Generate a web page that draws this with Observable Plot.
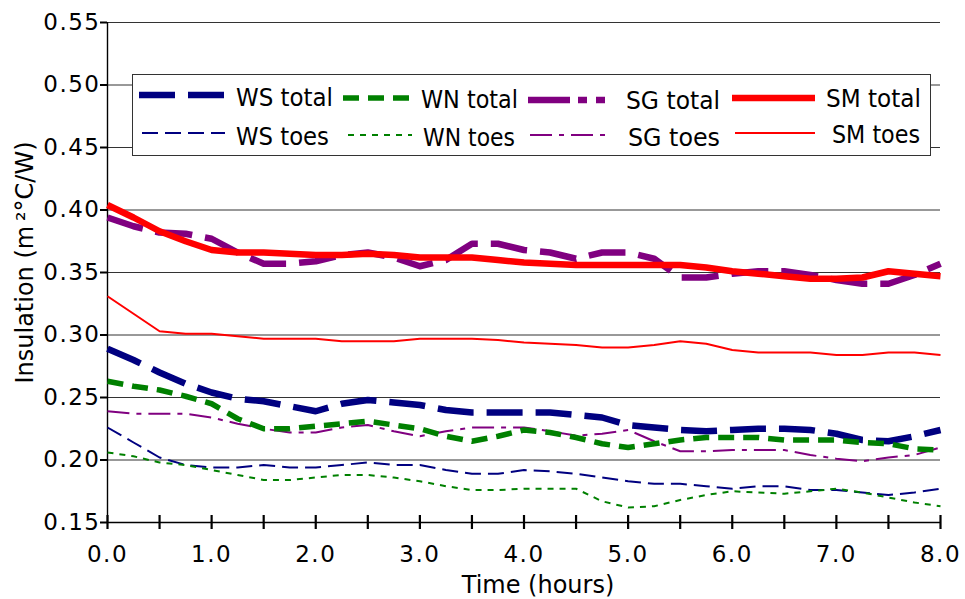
<!DOCTYPE html>
<html><head><meta charset="utf-8">
<script src="https://cdn.jsdelivr.net/npm/d3@7"></script>
<script src="https://cdn.jsdelivr.net/npm/@observablehq/plot@0.6"></script>
<style>
body{margin:0;background:#fff;}
#wrap{position:relative;width:965px;height:599px;}
#wrap > svg.plot g[aria-label="y-axis tick label"] text,
#wrap > svg.plot g[aria-label="x-axis tick label"] text{letter-spacing:1.5px;}
#legend{position:absolute;left:132px;top:74px;}
</style></head><body><div id="wrap"></div>
<script>
// ---- data ----
const hours = [0,0.25,0.5,0.75,1,1.25,1.5,1.75,2,2.25,2.5,2.75,3,3.25,3.5,3.75,4,4.25,4.5,4.75,5,5.25,5.5,5.75,6,6.25,6.5,6.75,7,7.25,7.5,7.75,8];
const wsTotal = [0.289,0.280,0.270,0.261,0.254,0.249,0.247,0.243,0.239,0.245,0.248,0.246,0.244,0.240,0.238,0.238,0.238,0.238,0.236,0.234,0.228,0.226,0.224,0.223,0.224,0.225,0.225,0.224,0.221,0.216,0.215,0.219,0.224];
const wnTotal = [0.263,0.259,0.256,0.251,0.245,0.233,0.225,0.225,0.227,0.229,0.231,0.228,0.225,0.219,0.215,0.219,0.224,0.222,0.218,0.213,0.210,0.213,0.216,0.218,0.218,0.218,0.216,0.216,0.216,0.214,0.213,0.209,0.208];
const sgTotal = [0.394,0.387,0.382,0.381,0.377,0.366,0.357,0.357,0.359,0.364,0.366,0.362,0.355,0.360,0.373,0.373,0.368,0.366,0.361,0.366,0.366,0.361,0.346,0.346,0.349,0.351,0.351,0.348,0.344,0.341,0.341,0.348,0.357];
const smTotal = [0.404,0.394,0.383,0.375,0.368,0.366,0.366,0.365,0.364,0.364,0.365,0.364,0.362,0.362,0.362,0.360,0.358,0.357,0.356,0.356,0.356,0.356,0.356,0.354,0.351,0.349,0.347,0.345,0.345,0.346,0.351,0.349,0.347];
const wsToes = [0.226,0.214,0.202,0.196,0.194,0.194,0.196,0.194,0.194,0.196,0.198,0.196,0.196,0.192,0.189,0.189,0.192,0.191,0.189,0.186,0.183,0.181,0.181,0.179,0.177,0.179,0.179,0.176,0.176,0.174,0.172,0.174,0.177];
const wnToes = [0.206,0.203,0.198,0.196,0.192,0.188,0.184,0.184,0.186,0.188,0.188,0.186,0.183,0.179,0.176,0.176,0.177,0.177,0.177,0.167,0.162,0.163,0.168,0.172,0.175,0.174,0.173,0.175,0.177,0.174,0.170,0.166,0.163];
const sgToes = [0.239,0.237,0.237,0.237,0.234,0.229,0.225,0.222,0.222,0.226,0.228,0.223,0.219,0.223,0.226,0.226,0.226,0.223,0.2195,0.221,0.224,0.215,0.207,0.207,0.208,0.208,0.208,0.204,0.201,0.199,0.202,0.204,0.210];
const smToes = [0.331,0.317,0.303,0.301,0.301,0.299,0.297,0.297,0.297,0.295,0.295,0.295,0.297,0.297,0.297,0.296,0.294,0.293,0.292,0.290,0.290,0.292,0.295,0.293,0.288,0.286,0.286,0.286,0.284,0.284,0.286,0.286,0.284];
const seriesNames = ["WS total","WN total","SG total","SM total","WS toes","WN toes","SG toes","SM toes"];
const yTicks = [0.15,0.20,0.25,0.30,0.35,0.40,0.45,0.50,0.55];
const xLabelTicks = [0,1,2,3,4,5,6,7,8];
const xMinorTicks = [0,0.5,1,1.5,2,2.5,3,3.5,4,4.5,5,5.5,6,6.5,7,7.5,8];
const xTitle = "Time (hours)";
const yTitle = "Insulation (m\u2009²°C/W)";

// ---- styles ----
const valuesByName = {"WS total":wsTotal,"WN total":wnTotal,"SG total":sgTotal,"SM total":smTotal,
  "WS toes":wsToes,"WN toes":wnToes,"SG toes":sgToes,"SM toes":smToes};
const styles = {
  "WS total":{color:"#000080",width:6.5,dash:"36 13"},
  "WN total":{color:"#008000",width:5.5,dash:"16 9"},
  "SG total":{color:"#800080",width:6.5,dash:"37 13", legendDash:"42 8 9 9 9 9"},
  "SM total":{color:"#ff0000",width:6.5,dash:null},
  "WS toes":{color:"#000080",width:2,dash:"16 7"},
  "WN toes":{color:"#008000",width:2,dash:"6 6"},
  "SG toes":{color:"#800080",width:2,dash:"22 7 5 7"},
  "SM toes":{color:"#ff0000",width:2,dash:null}
};
const rows = seriesNames.flatMap(name => hours.map((h,i) => ({hours:h, value:valuesByName[name][i], series:name})));
const drawOrder = ["WS toes","WN toes","SG toes","SM toes","WS total","WN total","SG total","SM total"];

const font = "'DejaVu Sans', Verdana, sans-serif";
const chart = Plot.plot({
  width:965, height:599,
  marginLeft:107, marginRight:25, marginTop:22, marginBottom:77,
  style:{fontFamily:font, background:"#fff", color:"#000"},
  x:{domain:[0,8]},
  y:{domain:[0.15,0.55]},
  marks:[
    Plot.ruleY(yTicks, {stroke:"#333", strokeWidth:1}),
    Plot.ruleX([xLabelTicks[0]], {stroke:"#000", strokeWidth:1.4}),
    Plot.ruleY([yTicks[0]], {stroke:"#000", strokeWidth:1.4}),
    Plot.ruleX(xMinorTicks, {y1:yTicks[0], y2:yTicks[0], insetTop:-7, insetBottom:-7, stroke:"#000", strokeWidth:2.2}),
    Plot.axisY({ticks:yTicks, tickFormat:d=>d.toFixed(2), tickSize:7, tickPadding:0, fontSize:23, stroke:"#000", strokeWidth:2, label:null}),
    Plot.axisX({ticks:xLabelTicks, tickFormat:d=>d.toFixed(1), tickSize:0, tickPadding:23, fontSize:23, label:null}),
    Plot.text([xTitle], {frameAnchor:"bottom", textAnchor:"middle", lineAnchor:"bottom", dx:14, dy:70, fontSize:24}),
    Plot.text([yTitle], {frameAnchor:"left", textAnchor:"middle", rotate:-90, lineAnchor:"middle", dx:-82, dy:-10, fontSize:24}),
    ...drawOrder.map(name => Plot.line(rows.filter(r => r.series === name), {
      x:"hours", y:"value", stroke:styles[name].color, strokeWidth:styles[name].width,
      strokeDasharray:styles[name].dash || undefined, strokeLinejoin:"round", strokeLinecap:"butt"}))
  ]
});
chart.classList.add("plot");
const wrap = document.getElementById("wrap");
wrap.appendChild(chart);

// ---- legend (boxed, inside plot area) ----
const legendLayout = {
  "WS total":{x1:7,x2:92,y:21,tx:104,ty:32,tw:97},
  "WN total":{x1:211,x2:283,y:24,tx:289,ty:34,tw:97},
  "SG total":{x1:396,x2:480,y:26,tx:494,ty:35,tw:94},
  "SM total":{x1:600,x2:683,y:24,tx:694,ty:33,tw:95},
  "WS toes":{x1:10,x2:93,y:59,tx:104,ty:71,tw:93},
  "WN toes":{x1:216,x2:280,y:61,tx:291,ty:72,tw:92},
  "SG toes":{x1:398,x2:480,y:61,tx:496,ty:72,tw:92},
  "SM toes":{x1:603,x2:683,y:59,tx:700,ty:69,tw:88}
};
const ns = "http://www.w3.org/2000/svg";
const lg = document.createElementNS(ns,"svg");
lg.setAttribute("id","legend");
lg.setAttribute("width",800); lg.setAttribute("height",83);
const box = document.createElementNS(ns,"rect");
box.setAttribute("x",0.5); box.setAttribute("y",0.5); box.setAttribute("width",798); box.setAttribute("height",81);
box.setAttribute("fill","#fff"); box.setAttribute("stroke","#333"); box.setAttribute("stroke-width",1);
lg.appendChild(box);
for (const name of seriesNames) {
  const p = legendLayout[name], s = styles[name];
  const ln = document.createElementNS(ns,"line");
  ln.setAttribute("x1",p.x1); ln.setAttribute("x2",p.x2); ln.setAttribute("y1",p.y); ln.setAttribute("y2",p.y);
  ln.setAttribute("stroke",s.color); ln.setAttribute("stroke-width",s.width);
  const dash = s.legendDash || s.dash;
  if (dash) ln.setAttribute("stroke-dasharray",dash);
  lg.appendChild(ln);
  const t = document.createElementNS(ns,"text");
  t.setAttribute("x",p.tx); t.setAttribute("y",p.ty);
  t.setAttribute("font-family",font);
  t.setAttribute("font-size",25);
  t.setAttribute("textLength",p.tw);
  t.setAttribute("lengthAdjust","spacingAndGlyphs");
  t.textContent = name;
  lg.appendChild(t);
}
wrap.appendChild(lg);
</script></body></html>
